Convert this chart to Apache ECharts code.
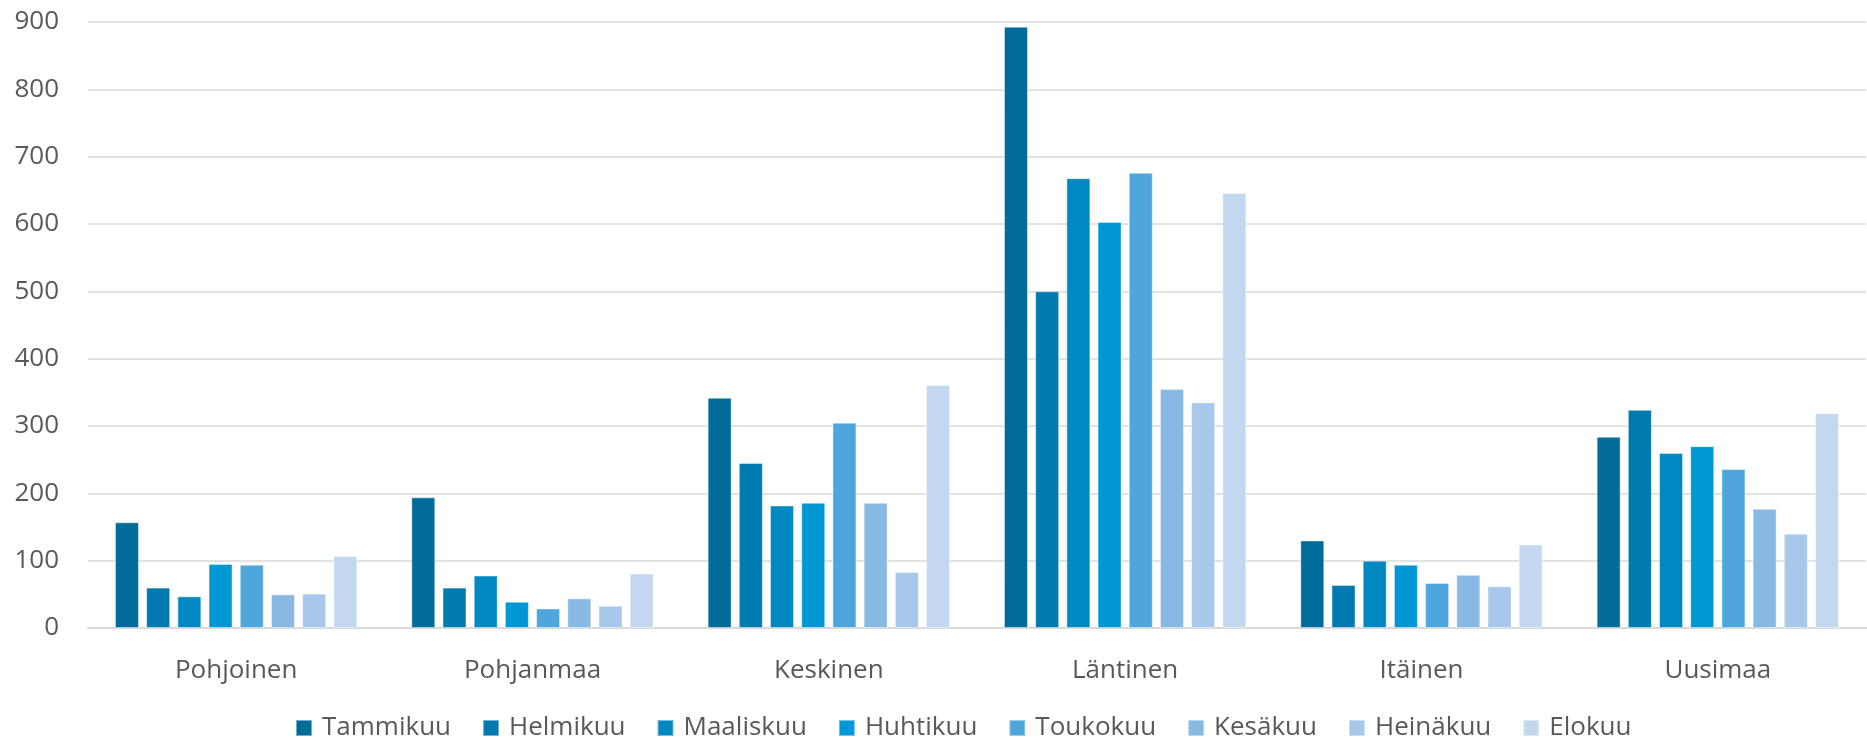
<!DOCTYPE html>
<html>
<head>
<meta charset="utf-8">
<script src="https://cdn.jsdelivr.net/npm/echarts@6/dist/echarts.min.js"></script>
<style>
html,body{margin:0;padding:0;background:#fff;}
#chart{width:1867px;height:742px;}
</style>
</head>
<body>
<div id="chart"></div>
<script>
const categories = ['Pohjoinen', 'Pohjanmaa', 'Keskinen', 'Läntinen', 'Itäinen', 'Uusimaa'];
const seriesNames = ['Tammikuu', 'Helmikuu', 'Maaliskuu', 'Huhtikuu', 'Toukokuu', 'Kesäkuu', 'Heinäkuu', 'Elokuu'];
const tammikuu = [157, 194, 342, 893, 130, 284];
const helmikuu = [60, 60, 245, 500, 64, 324];
const maaliskuu = [47, 78, 182, 668, 100, 260];
const huhtikuu = [95, 39, 186, 603, 94, 270];
const toukokuu = [94, 29, 305, 676, 67, 236];
const kesakuu = [50, 44, 186, 355, 79, 177];
const heinakuu = [51, 33, 83, 335, 62, 140];
const elokuu = [107, 81, 361, 646, 124, 319];
const yTicks = [0, 100, 200, 300, 400, 500, 600, 700, 800, 900];

const values = [tammikuu, helmikuu, maaliskuu, huhtikuu, toukokuu, kesakuu, heinakuu, elokuu];
const colors = ['#016B9A', '#007AAF', '#0089C1', '#0097D4', '#4EA6DC', '#87B9E3', '#A7C8EA', '#C3D8EF'];

const chart = echarts.init(document.getElementById('chart'), null, {renderer: 'canvas'});
const font = '"Open Sans", "Noto Sans", sans-serif';

chart.setOption({
  animation: false,
  backgroundColor: '#ffffff',
  color: colors,
  textStyle: {fontFamily: font},
  grid: {left: 88, right: 1, top: 22, bottom: 114, containLabel: false},
  legend: {
    data: seriesNames,
    left: 290,
    top: 710,
    itemWidth: 16,
    itemHeight: 16,
    itemGap: 31,
    icon: 'rect',
    textStyle: {fontFamily: font, fontSize: 26, color: '#595959', padding: [0, 0, 0, 5]}
  },
  xAxis: {
    type: 'category',
    data: categories,
    axisLine: {lineStyle: {color: '#D9D9D9', width: 2}},
    axisTick: {show: false},
    axisLabel: {fontFamily: font, fontSize: 26, color: '#595959', margin: 30}
  },
  yAxis: {
    type: 'value',
    min: yTicks[0],
    max: yTicks[yTicks.length - 1],
    interval: 100,
    axisLine: {show: false},
    axisTick: {show: false},
    splitLine: {lineStyle: {color: '#D9D9D9', width: 1.5}},
    axisLabel: {fontFamily: font, fontSize: 26, color: '#595959', margin: 29}
  },
  series: seriesNames.map((name, i) => ({
    name: name,
    type: 'bar',
    data: values[i],
    barWidth: 24,
    barGap: '30%',
    itemStyle: {color: colors[i], borderColor: 'rgba(255,255,255,0.45)', borderWidth: 1}
  }))
});
</script>
</body>
</html>
